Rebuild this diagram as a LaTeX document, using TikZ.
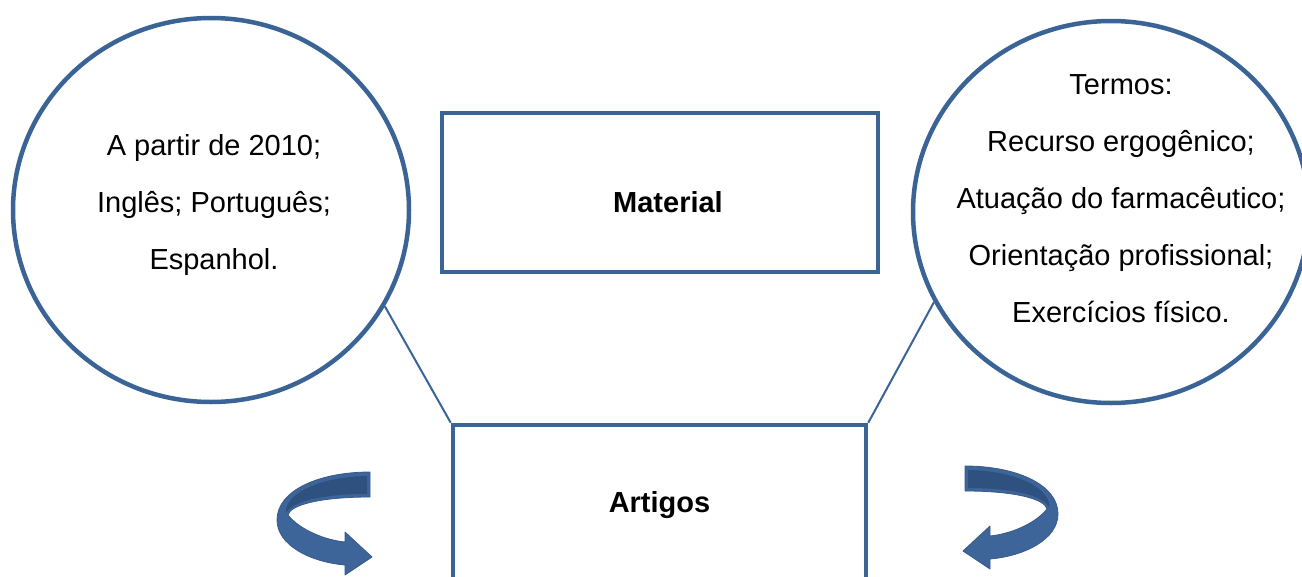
\documentclass[tikz,border=0pt]{standalone}
\usepackage{fontspec}
\setmainfont{Liberation Sans}
\usetikzlibrary{shapes.geometric}
\definecolor{lineblue}{RGB}{59,100,150}
\definecolor{arrowblue}{RGB}{61,101,153}
\definecolor{arrowdark}{RGB}{46,81,128}
\tikzset{
  bubble/.style={ellipse,draw=lineblue,line width=4.5pt,minimum width=396pt,minimum height=384pt,inner sep=0pt},
  box/.style={rectangle,draw=lineblue,line width=4.5pt,inner sep=0pt,font=\fontsize{29}{35}\selectfont\bfseries},
  boxtxt/.style={inner sep=0pt,font=\fontsize{29}{35}\selectfont\bfseries},
  txt/.style={align=center,inner sep=0pt,font=\fontsize{29}{57}\selectfont},
  link/.style={draw=lineblue,line width=2pt},
  turnarrow/.style={fill=arrowblue,draw=arrowblue!90!black,line width=0.8pt,line join=round},
  turnface/.style={fill=arrowdark}
}
\begin{document}
\begin{tikzpicture}[x=1pt,y=-1pt]
\useasboundingbox (0,0) rectangle (1302,576);
\clip (0,0) rectangle (1302,576);
\fill[white] (0,0) rectangle (1302,576);

\node[bubble] (lc) at (211,210) {};
\node[bubble,minimum height=382pt] (rc) at (1111,212) {};
\node[txt] (lt) at (214,205) {A partir de 2010;\\Inglês; Português;\\Espanhol.};
\node[txt] (rt) at (1121,199) {Termos:\\Recurso ergogênico;\\Atuação do farmacêutico;\\Orientação profissional;\\Exercícios físico.};

\node[box,minimum width=436pt,minimum height=159pt] (mat) at (660,192.5) {};
\node[boxtxt] (mattxt) at (668,202) {Material};
\node[box,minimum width=413pt,minimum height=160pt] (art) at (659.5,505) {Artigos};

\draw[link] (lc.-29) -- (art.north west);
\draw[link] (rc.-153) -- (art.north east);

% left curved arrow
\path[turnarrow] (370,472) -- (370,497)
  .. controls (320,497) and (290,505) .. (288,515)
  .. controls (300,530) and (325,540) .. (345,542)
  -- (345,532) -- (372,557) -- (345,575) -- (345,565)
  .. controls (310,562) and (277,545) .. (277,520)
  .. controls (277,490) and (320,472) .. (370,472) -- cycle;
\path[turnface] (367,476) -- (367,494)
  .. controls (320,494) and (292,502) .. (286,513)
  .. controls (284,496) and (315,477) .. (367,476) -- cycle;

% right curved arrow (mirror image)
\begin{scope}[shift={(1335,-6)},xscale=-1]
\path[turnarrow] (370,472) -- (370,497)
  .. controls (320,497) and (290,505) .. (288,515)
  .. controls (300,530) and (325,540) .. (345,542)
  -- (345,532) -- (372,557) -- (345,575) -- (345,565)
  .. controls (310,562) and (277,545) .. (277,520)
  .. controls (277,490) and (320,472) .. (370,472) -- cycle;
\path[turnface] (367,476) -- (367,494)
  .. controls (320,494) and (292,502) .. (286,513)
  .. controls (284,496) and (315,477) .. (367,476) -- cycle;
\end{scope}
\end{tikzpicture}
\end{document}
